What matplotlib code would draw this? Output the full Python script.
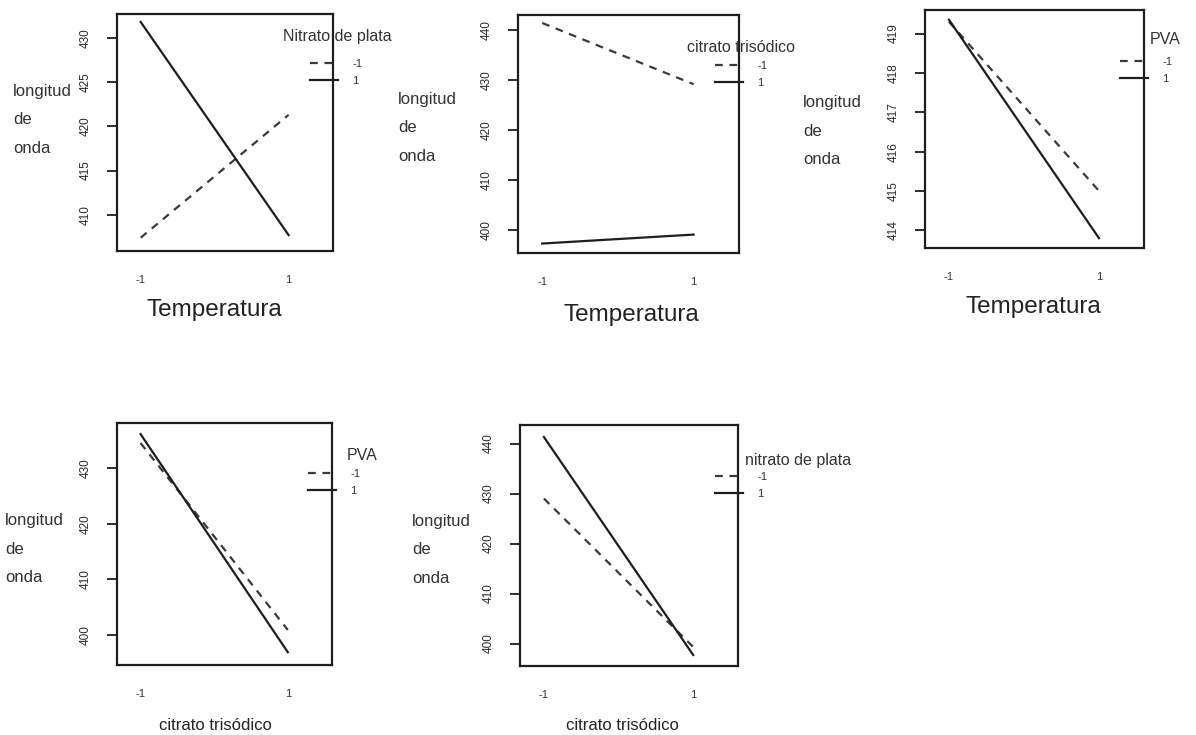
import matplotlib
matplotlib.use("Agg")
import matplotlib.pyplot as plt

plt.rcParams['font.family'] = ['Liberation Sans', 'DejaVu Sans']

W, H = 1196, 735

# ---- data ----
levels = [-1, 1]
xtick_labels = ["-1", "1"]
legend_labels = ["-1", "1"]

p1_dashed = [407.4, 421.3]
p1_solid = [431.8, 407.7]
p2_dashed = [441.5, 429.2]
p2_solid = [397.2, 399.0]
p3_dashed = [419.3, 415.0]
p3_solid = [419.35, 413.8]
p4_dashed = [434.5, 400.9]
p4_solid = [436.1, 396.9]
p5_dashed = [429.0, 399.3]
p5_solid = [441.3, 397.7]

p1_yticks = [410, 415, 420, 425, 430]
p2_yticks = [400, 410, 420, 430, 440]
p3_yticks = [414, 415, 416, 417, 418, 419]
p4_yticks = [400, 410, 420, 430]
p5_yticks = [400, 410, 420, 430, 440]

xlabels = ["Temperatura", "Temperatura", "Temperatura",
           "citrato trisódico", "citrato trisódico"]
legend_titles = ["Nitrato de plata", "citrato trisódico", "PVA",
                 "PVA", "nitrato de plata"]
ylabel_text = "longitud\nde\nonda"

# ---- layout (pixels) ----
panels = [
    dict(box=(117, 14, 333, 251), ylim=(405.9, 432.7), d=p1_dashed, s=p1_solid, yt=p1_yticks,
         xl=(214, 310), xls=17.5, yl=(13, 120), title=(283, 37), leg=(310, 59)),
    dict(box=(518, 15, 739, 253), ylim=(395.3, 443.1), d=p2_dashed, s=p2_solid, yt=p2_yticks,
         xl=(631, 315), xls=17.5, yl=(398, 128), title=(687, 48), leg=(715, 61)),
    dict(box=(925, 10, 1144, 248), ylim=(413.55, 419.6), d=p3_dashed, s=p3_solid, yt=p3_yticks,
         xl=(1033, 307), xls=17.5, yl=(803, 131), title=(1150, 40), leg=(1120, 57)),
    dict(box=(117, 423, 332, 665), ylim=(394.6, 438.1), d=p4_dashed, s=p4_solid, yt=p4_yticks,
         xl=(215, 726), xls=12, yl=(5, 549), title=(347, 455), leg=(308, 469)),
    dict(box=(520, 425, 738, 666), ylim=(395.5, 443.7), d=p5_dashed, s=p5_solid, yt=p5_yticks,
         xl=(622, 725), xls=12, yl=(412, 550), title=(745, 460), leg=(715, 472)),
]

fig = plt.figure(figsize=(W / 100, H / 100), dpi=100)
fig.patch.set_facecolor("white")

line_col = "#1e1e1e"
dash_col = "#3a3a3a"

for i, p in enumerate(panels):
    x0, y0, x1, y1 = p["box"]
    ax = fig.add_axes([x0 / W, 1 - y1 / H, (x1 - x0) / W, (y1 - y0) / H])
    bw, bh = (x1 - x0), (y1 - y0)

    def fx(px):
        return (px - x0) / bw

    def fy(py):
        return (y1 - py) / bh

    ax.plot(levels, p["d"], color=dash_col, lw=1.6, ls=(0, (3.5, 3.0)), label=legend_labels[0])
    ax.plot(levels, p["s"], color=line_col, lw=1.6, ls="-", label=legend_labels[1])

    ax.set_xlim(-1.32, 1.6)
    ax.set_ylim(*p["ylim"])
    ax.set_xticks(levels)
    ax.set_xticklabels(xtick_labels)
    ax.set_yticks(p["yt"])
    ax.set_yticklabels([str(v) for v in p["yt"]])

    for sp in ax.spines.values():
        sp.set_linewidth(1.6)
        sp.set_color("#1e1e1e")

    ax.tick_params(axis="x", length=0, pad=17, labelsize=8, labelcolor="#333333")
    ax.tick_params(axis="y", length=7, width=1.3, pad=11, labelsize=8.5,
                   labelcolor="#2a2a2a", color="#1e1e1e", labelrotation=90)
    for lab in ax.get_yticklabels():
        lab.set_verticalalignment("center")

    ax.set_xlabel(xlabels[i], fontsize=p["xls"], color="#222222", va="center")
    ax.xaxis.set_label_coords(fx(p["xl"][0]), fy(p["xl"][1]))

    ax.set_ylabel(ylabel_text, rotation=0, ha="left", va="center", fontsize=12,
                  color="#333333", linespacing=2.15)
    ax.yaxis.set_label_coords(fx(p["yl"][0]), fy(p["yl"][1]))

    ax.text(fx(p["title"][0]), fy(p["title"][1]), legend_titles[i], transform=ax.transAxes,
            ha="left", va="center", fontsize=11.5, color="#333333", clip_on=False)

    leg = ax.legend(loc="upper left", bbox_to_anchor=(fx(p["leg"][0]), fy(p["leg"][1])),
                    frameon=False, borderpad=0, borderaxespad=0, handlelength=2.5,
                    handletextpad=1.3, labelspacing=0.65, fontsize=8)
    for t in leg.get_texts():
        t.set_color("#333333")

fig.savefig("out.png", dpi=100, facecolor="white")
